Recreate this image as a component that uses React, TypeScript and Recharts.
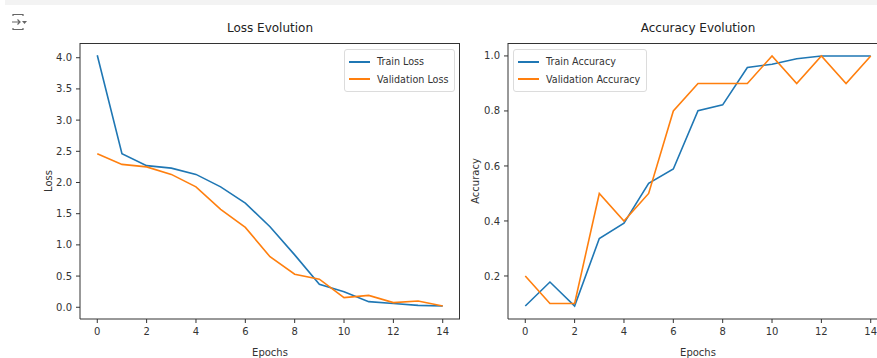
import React from "react";
import { LineChart, Line, XAxis, YAxis, Legend } from "recharts";

const epochs = [0, 1, 2, 3, 4, 5, 6, 7, 8, 9, 10, 11, 12, 13, 14];
const trainLoss = [4.04, 2.46, 2.27, 2.23, 2.13, 1.93, 1.67, 1.29, 0.84, 0.37, 0.25, 0.09, 0.06, 0.03, 0.02];
const valLoss = [2.46, 2.29, 2.25, 2.13, 1.93, 1.57, 1.28, 0.81, 0.53, 0.45, 0.155, 0.19, 0.075, 0.1, 0.02];
const trainAcc = [0.091, 0.178, 0.091, 0.336, 0.392, 0.537, 0.589, 0.801, 0.822, 0.958, 0.97, 0.99, 1.0, 1.0, 1.0];
const valAcc = [0.2, 0.1, 0.1, 0.5, 0.4, 0.5, 0.8, 0.9, 0.9, 0.9, 1.0, 0.9, 1.0, 0.9, 1.0];

const xTicks = [0, 2, 4, 6, 8, 10, 12, 14];
const lossTicks = [0, 0.5, 1, 1.5, 2, 2.5, 3, 3.5, 4];
const accTicks = [0.2, 0.4, 0.6, 0.8, 1.0];

const BLUE = "#1f77b4";
const ORANGE = "#ff7f0e";
const INK = "#333";
const FONT = "'DejaVu Sans', sans-serif";

const lossData = epochs.map((e, i) => ({ epoch: e, train: trainLoss[i], val: valLoss[i] }));
const accData = epochs.map((e, i) => ({ epoch: e, train: trainAcc[i], val: valAcc[i] }));

// matplotlib-ish legend box
function mplLegend(left: number, top: number) {
  return function LegendBox(props: any) {
    const items = props.payload || [];
    return (
      <div
        style={{
          position: "absolute",
          left,
          top,
          border: "1px solid #dcdcdc",
          borderRadius: 3,
          background: "rgba(255,255,255,0.85)",
          padding: "3px 6px 3px 4px",
          fontFamily: FONT,
          fontSize: 9.6,
          color: INK,
          whiteSpace: "nowrap",
        }}
      >
        {items.map((it: any) => (
          <div key={it.value} style={{ display: "flex", alignItems: "center", height: 17.5 }}>
            <span style={{ display: "inline-block", width: 21, height: 2, background: it.color, marginRight: 7 }} />
            <span>{it.value}</span>
          </div>
        ))}
      </div>
    );
  };
}

function Panel({
  data,
  left,
  marginLeft,
  title,
  yLabel,
  yLabelOffset,
  domain,
  ticks,
  trainName,
  valName,
  legendLeft,
}: {
  data: { epoch: number; train: number; val: number }[];
  left: number;
  marginLeft: number;
  title: string;
  yLabel: string;
  yLabelOffset: number;
  domain: [number, number];
  ticks: number[];
  trainName: string;
  valName: string;
  legendLeft: number;
}) {
  const plotLeft = marginLeft + 40;
  const width = plotLeft + 380 + 10;
  const tick = { fontSize: 10, fill: INK, fontFamily: FONT };
  return (
    <div style={{ position: "absolute", left, top: 0 }}>
      <div
        style={{
          position: "absolute",
          left: plotLeft,
          width: 380,
          top: 21,
          textAlign: "center",
          fontFamily: FONT,
          fontSize: 12,
          color: "#222",
        }}
      >
        {title}
      </div>
      <LineChart
        width={width}
        height={358}
        data={data}
        margin={{ top: 43, right: 10, bottom: 0, left: marginLeft }}
      >
        <XAxis
          dataKey="epoch"
          type="number"
          domain={[-0.7, 14.7]}
          ticks={xTicks}
          allowDataOverflow
          height={39}
          tickSize={4}
          tickMargin={5}
          tick={tick}
          stroke={INK}
          label={{ value: "Epochs", position: "insideBottom", offset: 2, fontSize: 10, fill: INK, fontFamily: FONT }}
        />
        <YAxis
          type="number"
          domain={domain}
          ticks={ticks}
          allowDataOverflow
          width={40}
          tickSize={4}
          tickMargin={4}
          tick={tick}
          tickFormatter={(v: number) => v.toFixed(1)}
          stroke={INK}
          label={{
            value: yLabel,
            angle: -90,
            position: "insideLeft",
            offset: yLabelOffset,
            style: { textAnchor: "middle", fontSize: 10, fill: INK, fontFamily: FONT },
          }}
        />
        <Legend
          layout="vertical"
          align="center"
          verticalAlign="middle"
          wrapperStyle={{ top: 0, left: 0, width: 0, height: 0 }}
          content={mplLegend(legendLeft, 49)}
        />
        <Line
          dataKey="train"
          name={trainName}
          stroke={BLUE}
          strokeWidth={1.6}
          dot={false}
          isAnimationActive={false}
        />
        <Line
          dataKey="val"
          name={valName}
          stroke={ORANGE}
          strokeWidth={1.6}
          dot={false}
          isAnimationActive={false}
        />
      </LineChart>
      {/* axes frame (top/right spines) */}
      <div
        style={{
          position: "absolute",
          left: plotLeft,
          top: 43,
          width: 380,
          height: 276,
          boxSizing: "border-box",
          borderTop: `1px solid ${INK}`,
          borderRight: `1px solid ${INK}`,
          pointerEvents: "none",
        }}
      />
    </div>
  );
}

export default function App() {
  return (
    <div
      style={{
        position: "absolute",
        left: 0,
        top: 0,
        width: 877,
        height: 358,
        overflow: "hidden",
        background: "#fff",
      }}
    >
      <div style={{ position: "absolute", left: 5, top: 0, width: 872, height: 5, background: "#f3f3f3" }} />
      <svg style={{ position: "absolute", left: 10, top: 13 }} width={18} height={18} viewBox="0 0 18 18">
        <path d="M3 3 V1.5 H13 V3 M3 15 V16.5 H13 V15" fill="none" stroke="#666" strokeWidth={1.2} />
        <path d="M2 9 H10 M7.5 6.5 L10 9 L7.5 11.5" fill="none" stroke="#666" strokeWidth={1.2} />
        <path d="M12 8 H17 L14.5 11 Z" fill="#666" />
      </svg>
      <Panel
        data={lossData}
        left={0}
        marginLeft={40}
        title="Loss Evolution"
        yLabel="Loss"
        yLabelOffset={8}
        domain={[-0.188, 4.236]}
        ticks={lossTicks}
        trainName="Train Loss"
        valName="Validation Loss"
        legendLeft={344}
      />
      <Panel
        data={accData}
        left={440}
        marginLeft={28}
        title="Accuracy Evolution"
        yLabel="Accuracy"
        yLabelOffset={7}
        domain={[0.0436, 1.047]}
        ticks={accTicks}
        trainName="Train Accuracy"
        valName="Validation Accuracy"
        legendLeft={73}
      />
    </div>
  );
}
